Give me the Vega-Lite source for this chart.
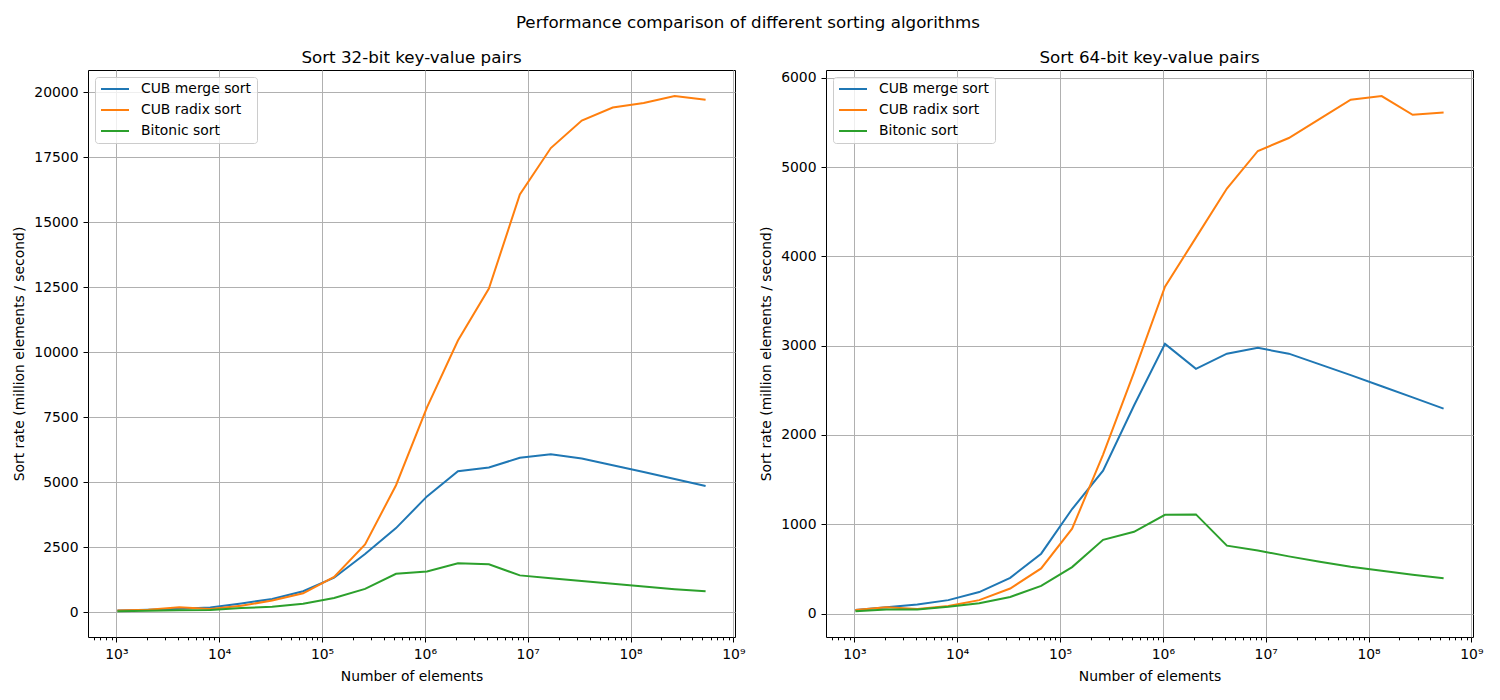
{
  "$schema": "https://vega.github.io/schema/vega-lite/v6.json",
  "background": "white",
  "padding": {"left": 12, "top": 15, "right": 10, "bottom": 10},
  "title": {"text": "Performance comparison of different sorting algorithms", "fontSize": 16.7, "font": "DejaVu Sans", "fontWeight": "normal", "anchor": "middle", "offset": 18, "color": "black"},
  "config": {
    "font": "DejaVu Sans",
    "view": {"stroke": "black", "strokeWidth": 1},
    "axis": {"domain": false, "grid": true, "gridColor": "#b0b0b0", "gridWidth": 1, "tickColor": "black", "labelColor": "black", "labelFontSize": 13.9, "titleFontSize": 13.9, "titleFontWeight": "normal", "titleColor": "black", "labelFont": "DejaVu Sans", "titleFont": "DejaVu Sans", "tickSize": 5, "labelPadding": 5, "labelOverlap": false, "labelFlush": false, "labelBound": false, "titlePadding": 7},
    "axisX": {"titlePadding": 9},
    "title": {"fontSize": 16.7, "fontWeight": "normal", "font": "DejaVu Sans", "offset": 3, "color": "black"},
    "legend": {"orient": "top-left", "offset": 7, "title": null, "symbolType": "stroke", "symbolSize": 784, "symbolStrokeWidth": 2, "labelFontSize": 13.9, "labelFont": "DejaVu Sans", "labelColor": "black", "strokeColor": "#cccccc", "fillColor": "rgba(255,255,255,0.8)", "padding": 5, "cornerRadius": 3, "rowPadding": 7, "clipHeight": 14, "labelOffset": 11}
  },
  "datasets": {
    "p32": [
      {"n": 1024, "alg": "CUB merge sort", "rate": 60}, {"n": 2048, "alg": "CUB merge sort", "rate": 90}, {"n": 4096, "alg": "CUB merge sort", "rate": 130}, {"n": 8192, "alg": "CUB merge sort", "rate": 170}, {"n": 16384, "alg": "CUB merge sort", "rate": 330}, {"n": 32768, "alg": "CUB merge sort", "rate": 500}, {"n": 65536, "alg": "CUB merge sort", "rate": 800}, {"n": 131072, "alg": "CUB merge sort", "rate": 1320}, {"n": 262144, "alg": "CUB merge sort", "rate": 2230}, {"n": 524288, "alg": "CUB merge sort", "rate": 3230}, {"n": 1048576, "alg": "CUB merge sort", "rate": 4450}, {"n": 2097152, "alg": "CUB merge sort", "rate": 5420}, {"n": 4194304, "alg": "CUB merge sort", "rate": 5560}, {"n": 8388608, "alg": "CUB merge sort", "rate": 5940}, {"n": 16777216, "alg": "CUB merge sort", "rate": 6070}, {"n": 33554432, "alg": "CUB merge sort", "rate": 5910}, {"n": 67108864, "alg": "CUB merge sort", "rate": 5650}, {"n": 134217728, "alg": "CUB merge sort", "rate": 5390}, {"n": 268435456, "alg": "CUB merge sort", "rate": 5120}, {"n": 536870912, "alg": "CUB merge sort", "rate": 4850},
      {"n": 1024, "alg": "CUB radix sort", "rate": 60}, {"n": 2048, "alg": "CUB radix sort", "rate": 90}, {"n": 4096, "alg": "CUB radix sort", "rate": 180}, {"n": 8192, "alg": "CUB radix sort", "rate": 120}, {"n": 16384, "alg": "CUB radix sort", "rate": 240}, {"n": 32768, "alg": "CUB radix sort", "rate": 440}, {"n": 65536, "alg": "CUB radix sort", "rate": 720}, {"n": 131072, "alg": "CUB radix sort", "rate": 1350}, {"n": 262144, "alg": "CUB radix sort", "rate": 2600}, {"n": 524288, "alg": "CUB radix sort", "rate": 4880}, {"n": 1048576, "alg": "CUB radix sort", "rate": 7880}, {"n": 2097152, "alg": "CUB radix sort", "rate": 10450}, {"n": 4194304, "alg": "CUB radix sort", "rate": 12450}, {"n": 8388608, "alg": "CUB radix sort", "rate": 16070}, {"n": 16777216, "alg": "CUB radix sort", "rate": 17860}, {"n": 33554432, "alg": "CUB radix sort", "rate": 18920}, {"n": 67108864, "alg": "CUB radix sort", "rate": 19420}, {"n": 134217728, "alg": "CUB radix sort", "rate": 19590}, {"n": 268435456, "alg": "CUB radix sort", "rate": 19860}, {"n": 536870912, "alg": "CUB radix sort", "rate": 19720},
      {"n": 1024, "alg": "Bitonic sort", "rate": 30}, {"n": 2048, "alg": "Bitonic sort", "rate": 50}, {"n": 4096, "alg": "Bitonic sort", "rate": 70}, {"n": 8192, "alg": "Bitonic sort", "rate": 80}, {"n": 16384, "alg": "Bitonic sort", "rate": 150}, {"n": 32768, "alg": "Bitonic sort", "rate": 200}, {"n": 65536, "alg": "Bitonic sort", "rate": 320}, {"n": 131072, "alg": "Bitonic sort", "rate": 540}, {"n": 262144, "alg": "Bitonic sort", "rate": 890}, {"n": 524288, "alg": "Bitonic sort", "rate": 1470}, {"n": 1048576, "alg": "Bitonic sort", "rate": 1560}, {"n": 2097152, "alg": "Bitonic sort", "rate": 1880}, {"n": 4194304, "alg": "Bitonic sort", "rate": 1840}, {"n": 8388608, "alg": "Bitonic sort", "rate": 1410}, {"n": 16777216, "alg": "Bitonic sort", "rate": 1300}, {"n": 33554432, "alg": "Bitonic sort", "rate": 1190}, {"n": 67108864, "alg": "Bitonic sort", "rate": 1090}, {"n": 134217728, "alg": "Bitonic sort", "rate": 980}, {"n": 268435456, "alg": "Bitonic sort", "rate": 880}, {"n": 536870912, "alg": "Bitonic sort", "rate": 800}
    ],
    "p64": [
      {"n": 1024, "alg": "CUB merge sort", "rate": 40}, {"n": 2048, "alg": "CUB merge sort", "rate": 70}, {"n": 4096, "alg": "CUB merge sort", "rate": 100}, {"n": 8192, "alg": "CUB merge sort", "rate": 150}, {"n": 16384, "alg": "CUB merge sort", "rate": 240}, {"n": 32768, "alg": "CUB merge sort", "rate": 400}, {"n": 65536, "alg": "CUB merge sort", "rate": 670}, {"n": 131072, "alg": "CUB merge sort", "rate": 1170}, {"n": 262144, "alg": "CUB merge sort", "rate": 1600}, {"n": 524288, "alg": "CUB merge sort", "rate": 2330}, {"n": 1048576, "alg": "CUB merge sort", "rate": 3020}, {"n": 2097152, "alg": "CUB merge sort", "rate": 2740}, {"n": 4194304, "alg": "CUB merge sort", "rate": 2910}, {"n": 8388608, "alg": "CUB merge sort", "rate": 2975}, {"n": 16777216, "alg": "CUB merge sort", "rate": 2910}, {"n": 33554432, "alg": "CUB merge sort", "rate": 2790}, {"n": 67108864, "alg": "CUB merge sort", "rate": 2670}, {"n": 134217728, "alg": "CUB merge sort", "rate": 2545}, {"n": 268435456, "alg": "CUB merge sort", "rate": 2420}, {"n": 536870912, "alg": "CUB merge sort", "rate": 2295},
      {"n": 1024, "alg": "CUB radix sort", "rate": 40}, {"n": 2048, "alg": "CUB radix sort", "rate": 70}, {"n": 4096, "alg": "CUB radix sort", "rate": 50}, {"n": 8192, "alg": "CUB radix sort", "rate": 85}, {"n": 16384, "alg": "CUB radix sort", "rate": 150}, {"n": 32768, "alg": "CUB radix sort", "rate": 280}, {"n": 65536, "alg": "CUB radix sort", "rate": 505}, {"n": 131072, "alg": "CUB radix sort", "rate": 950}, {"n": 262144, "alg": "CUB radix sort", "rate": 1780}, {"n": 524288, "alg": "CUB radix sort", "rate": 2700}, {"n": 1048576, "alg": "CUB radix sort", "rate": 3660}, {"n": 2097152, "alg": "CUB radix sort", "rate": 4210}, {"n": 4194304, "alg": "CUB radix sort", "rate": 4760}, {"n": 8388608, "alg": "CUB radix sort", "rate": 5180}, {"n": 16777216, "alg": "CUB radix sort", "rate": 5325}, {"n": 33554432, "alg": "CUB radix sort", "rate": 5540}, {"n": 67108864, "alg": "CUB radix sort", "rate": 5755}, {"n": 134217728, "alg": "CUB radix sort", "rate": 5795}, {"n": 268435456, "alg": "CUB radix sort", "rate": 5585}, {"n": 536870912, "alg": "CUB radix sort", "rate": 5610},
      {"n": 1024, "alg": "Bitonic sort", "rate": 25}, {"n": 2048, "alg": "Bitonic sort", "rate": 45}, {"n": 4096, "alg": "Bitonic sort", "rate": 45}, {"n": 8192, "alg": "Bitonic sort", "rate": 75}, {"n": 16384, "alg": "Bitonic sort", "rate": 115}, {"n": 32768, "alg": "Bitonic sort", "rate": 185}, {"n": 65536, "alg": "Bitonic sort", "rate": 310}, {"n": 131072, "alg": "Bitonic sort", "rate": 520}, {"n": 262144, "alg": "Bitonic sort", "rate": 825}, {"n": 524288, "alg": "Bitonic sort", "rate": 915}, {"n": 1048576, "alg": "Bitonic sort", "rate": 1105}, {"n": 2097152, "alg": "Bitonic sort", "rate": 1110}, {"n": 4194304, "alg": "Bitonic sort", "rate": 760}, {"n": 8388608, "alg": "Bitonic sort", "rate": 705}, {"n": 16777216, "alg": "Bitonic sort", "rate": 640}, {"n": 33554432, "alg": "Bitonic sort", "rate": 580}, {"n": 67108864, "alg": "Bitonic sort", "rate": 525}, {"n": 134217728, "alg": "Bitonic sort", "rate": 480}, {"n": 268435456, "alg": "Bitonic sort", "rate": 435}, {"n": 536870912, "alg": "Bitonic sort", "rate": 395}
    ]
  },
  "spacing": 13,
  "resolve": {"scale": {"color": "independent", "x": "independent", "y": "independent"}, "legend": {"color": "independent"}},
  "hconcat": [
    {
      "title": "Sort 32-bit key-value pairs",
      "width": 647,
      "height": 567,
      "data": {"name": "p32"},
      "mark": {"type": "line", "strokeWidth": 2, "clip": true},
      "encoding": {
        "x": {"field": "n", "type": "quantitative",
          "scale": {"type": "log", "domain": [530, 1037000000], "nice": false},
          "axis": {"title": "Number of elements",
            "values": [600,700,800,900,1000,2000,3000,4000,5000,6000,7000,8000,9000,10000,20000,30000,40000,50000,60000,70000,80000,90000,100000,200000,300000,400000,500000,600000,700000,800000,900000,1000000,2000000,3000000,4000000,5000000,6000000,7000000,8000000,9000000,10000000,20000000,30000000,40000000,50000000,60000000,70000000,80000000,90000000,100000000,200000000,300000000,400000000,500000000,600000000,700000000,800000000,900000000,1000000000],
            "labelExpr": "abs(log(datum.value)/LN10 - round(log(datum.value)/LN10)) < 0.001 ? '10' + ['⁰','¹','²','³','⁴','⁵','⁶','⁷','⁸','⁹'][round(log(datum.value)/LN10)] : ''",
            "gridOpacity": {"condition": {"test": "abs(log(datum.value)/LN10 - round(log(datum.value)/LN10)) < 0.001", "value": 1}, "value": 0},
            "tickSize": {"condition": {"test": "abs(log(datum.value)/LN10 - round(log(datum.value)/LN10)) < 0.001", "value": 5}, "value": 2.8}
          }
        },
        "y": {"field": "rate", "type": "quantitative",
          "scale": {"domain": [-962, 20864], "nice": false, "zero": false},
          "axis": {"title": "Sort rate (million elements / second)", "values": [0,2500,5000,7500,10000,12500,15000,17500,20000], "format": "d"}
        },
        "color": {"field": "alg", "type": "nominal",
          "scale": {"domain": ["CUB merge sort", "CUB radix sort", "Bitonic sort"], "range": ["#1f77b4", "#ff7f0e", "#2ca02c"]},
          "legend": {"orient": "top-left"}
        }
      }
    },
    {
      "title": "Sort 64-bit key-value pairs",
      "width": 647,
      "height": 567,
      "data": {"name": "p64"},
      "mark": {"type": "line", "strokeWidth": 2, "clip": true},
      "encoding": {
        "x": {"field": "n", "type": "quantitative",
          "scale": {"type": "log", "domain": [530, 1037000000], "nice": false},
          "axis": {"title": "Number of elements",
            "values": [600,700,800,900,1000,2000,3000,4000,5000,6000,7000,8000,9000,10000,20000,30000,40000,50000,60000,70000,80000,90000,100000,200000,300000,400000,500000,600000,700000,800000,900000,1000000,2000000,3000000,4000000,5000000,6000000,7000000,8000000,9000000,10000000,20000000,30000000,40000000,50000000,60000000,70000000,80000000,90000000,100000000,200000000,300000000,400000000,500000000,600000000,700000000,800000000,900000000,1000000000],
            "labelExpr": "abs(log(datum.value)/LN10 - round(log(datum.value)/LN10)) < 0.001 ? '10' + ['⁰','¹','²','³','⁴','⁵','⁶','⁷','⁸','⁹'][round(log(datum.value)/LN10)] : ''",
            "gridOpacity": {"condition": {"test": "abs(log(datum.value)/LN10 - round(log(datum.value)/LN10)) < 0.001", "value": 1}, "value": 0},
            "tickSize": {"condition": {"test": "abs(log(datum.value)/LN10 - round(log(datum.value)/LN10)) < 0.001", "value": 5}, "value": 2.8}
          }
        },
        "y": {"field": "rate", "type": "quantitative",
          "scale": {"domain": [-263, 6087], "nice": false, "zero": false},
          "axis": {"title": "Sort rate (million elements / second)", "values": [0,1000,2000,3000,4000,5000,6000], "format": "d"}
        },
        "color": {"field": "alg", "type": "nominal",
          "scale": {"domain": ["CUB merge sort", "CUB radix sort", "Bitonic sort"], "range": ["#1f77b4", "#ff7f0e", "#2ca02c"]},
          "legend": {"orient": "top-left"}
        }
      }
    }
  ]
}
